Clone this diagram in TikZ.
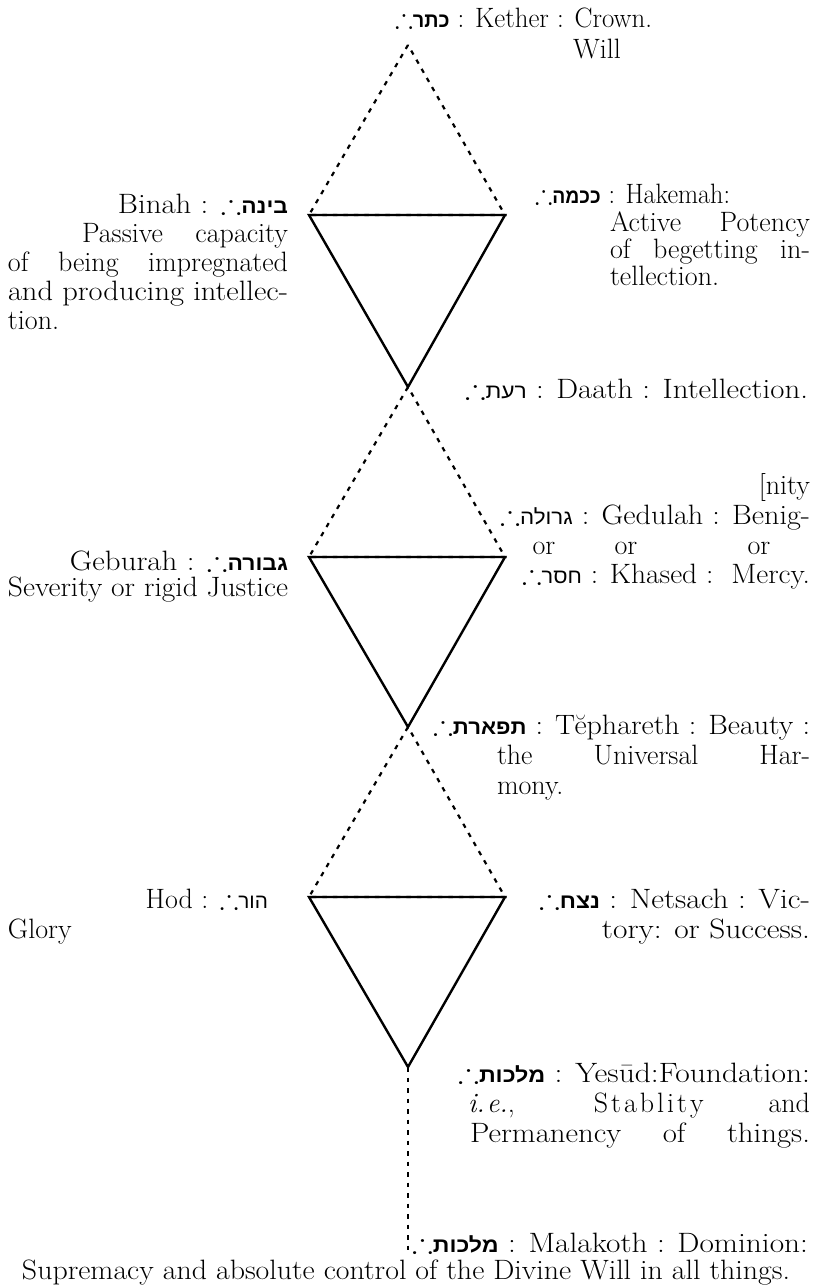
\documentclass[tikz,border=0pt]{standalone}
\usepackage{amssymb}
\usepackage{graphicx}
\usepackage{fontspec}
\newfontfamily\hebfont[Script=Hebrew,Scale=0.74]{Liberation Sans}
\TeXXeTstate=1
\newcommand\Thf{$\therefore$}
\newcommand\hbb[1]{{\hebfont\bfseries\beginR#1\endR}}
\newcommand\hbr[1]{{\hebfont\beginR#1\endR}}
\newcommand\jline[2]{\makebox[#1pt][s]{#2}}
\newcommand\fitline[2]{\resizebox{#1pt}{\height}{#2}}
\newcommand\wx[1]{\scalebox{1.1}[1]{#1}}
\tikzset{
  lbl/.style={inner sep=0pt, outer sep=0pt, font=\fontsize{28}{33}\selectfont\addfontfeatures{FakeStretch=1.04,FakeBold=0.3}},
  solidtri/.style={line width=2.4pt, line join=miter},
  dottri/.style={line width=2.2pt, dash pattern=on 4.5pt off 6pt},
}
\begin{document}
\begin{tikzpicture}[x=1pt,y=-1pt]
\useasboundingbox (0,0) rectangle (812,1286);
% vertices
\coordinate (k) at (408,45);
\coordinate (b1l) at (309,215); \coordinate (b1r) at (505,215);
\coordinate (a1) at (408,387);
\coordinate (b2l) at (309,557); \coordinate (b2r) at (505,557);
\coordinate (a2) at (408,727);
\coordinate (b3l) at (309,897); \coordinate (b3r) at (505,897);
\coordinate (a3) at (408,1067);
\coordinate (m) at (408,1252);
% triangles
\draw[dottri] (k) -- (b1l) -- (b1r) -- cycle;
\draw[solidtri] (b1l) -- (b1r) -- (a1) -- cycle;
\draw[dottri] (a1) -- (b2l) -- (b2r) -- cycle;
\draw[solidtri] (b2l) -- (b2r) -- (a2) -- cycle;
\draw[dottri] (a2) -- (b3l) -- (b3r) -- cycle;
\draw[solidtri] (b3l) -- (b3r) -- (a3) -- cycle;
\draw[dottri] (a3) -- (m);
% Kether
\node[lbl, anchor=base west] (kether) at (395,27) {\fitline{257}{\Thf\hbb{כתר} : Kether : Crown.}};
\node[lbl, anchor=base] (will) at (597,58) {Will};
% Binah
\node[lbl, anchor=base east] (binah) at (288,213) {\fitline{170}{Binah : \Thf\hbb{בינה}}};
\node[lbl, anchor=base west] (binah1) at (82,242) {\jline{206}{Passive capacity}};
\node[lbl, anchor=base west] (binah2) at (8,271) {\jline{280}{of being impregnated}};
\node[lbl, anchor=base west] (binah3) at (8,300) {\fitline{280}{and producing intellec-}};
\node[lbl, anchor=base west] (binah4) at (8,329) {tion.};
% Hakemah
\node[lbl, anchor=base west] (hak) at (535,203) {\fitline{195}{\Thf\hbb{ככמה} : Hakemah:}};
\node[lbl, anchor=base west] (hak1) at (610,231) {\jline{200}{Active Potency}};
\node[lbl, anchor=base west] (hak2) at (610,258) {\jline{200}{of begetting in-}};
\node[lbl, anchor=base west] (hak3) at (610,285) {tellection.};
% Daath
\node[lbl, anchor=base west] (daath) at (465,398) {\fitline{343}{\Thf\hbr{רעת} : Daath : Intellection.}};
% Gedulah / Khased
\node[lbl, anchor=base east] (ged0) at (810,494) {[nity};
\node[lbl, anchor=base west] (ged) at (500,524) {\fitline{310}{\Thf\hbr{גרולה} : Gedulah : Benig-}};
\node[lbl, anchor=base] (or1) at (544,554) {or};
\node[lbl, anchor=base] (or2) at (626,554) {or};
\node[lbl, anchor=base] (or3) at (759,554) {or};
\node[lbl, anchor=base west] (khased) at (522,583) {\fitline{288}{\Thf\hbr{חסר} : Khased :\ \ Mercy.}};
% Geburah
\node[lbl, anchor=base east] (geb) at (288,570) {\fitline{218}{Geburah : \Thf\hbb{גבורה}}};
\node[lbl, anchor=base west] (geb1) at (8,596) {\fitline{280}{Severity or rigid Justice}};
% Tiphareth
\node[lbl, anchor=base west] (tiph) at (433,734) {\fitline{377}{\Thf\hbb{תפארת} : T\u{e}phareth : Beauty :}};
\node[lbl, anchor=base west] (tiph1) at (497,764) {\jline{313}{the Universal Har-}};
\node[lbl, anchor=base west] (tiph2) at (497,794) {mony.};
% Hod / Netsach
\node[lbl, anchor=base east] (hod) at (268,908) {Hod : \Thf\hbr{הור}};
\node[lbl, anchor=base west] (glory) at (8,938) {Glory};
\node[lbl, anchor=base west] (nets) at (539,908) {\fitline{271}{\Thf\hbb{נצח} : Netsach : Vic-}};
\node[lbl, anchor=base east] (nets1) at (810,938) {\fitline{208}{tory: or Success.}};
% Yesod
\node[lbl, anchor=base west] (yes) at (458,1082) {\fitline{352}{\Thf\hbb{מלכות} : Yes\={u}d:Foundation:}};
\node[lbl, anchor=base west] (yes1) at (468,1112) {\jline{342}{\textit{i.\kern2pt e.}, S\kern3pt t\kern3pt a\kern3pt b\kern3pt l\kern3pt i\kern3pt t\kern3pt y and}};
\node[lbl, anchor=base west] (yes2) at (470,1142) {\jline{340}{\wx{Permanency} \wx{of} \wx{things.}}};
% Malakoth
\node[lbl, anchor=base west] (mal) at (412,1252) {\fitline{396}{\Thf\hbb{מלכות} : Malakoth : Dominion:}};
\node[lbl, anchor=base west] (mal1) at (22,1279) {\fitline{768}{Supremacy and absolute control of the Divine Will in all things.}};
\end{tikzpicture}
\end{document}
